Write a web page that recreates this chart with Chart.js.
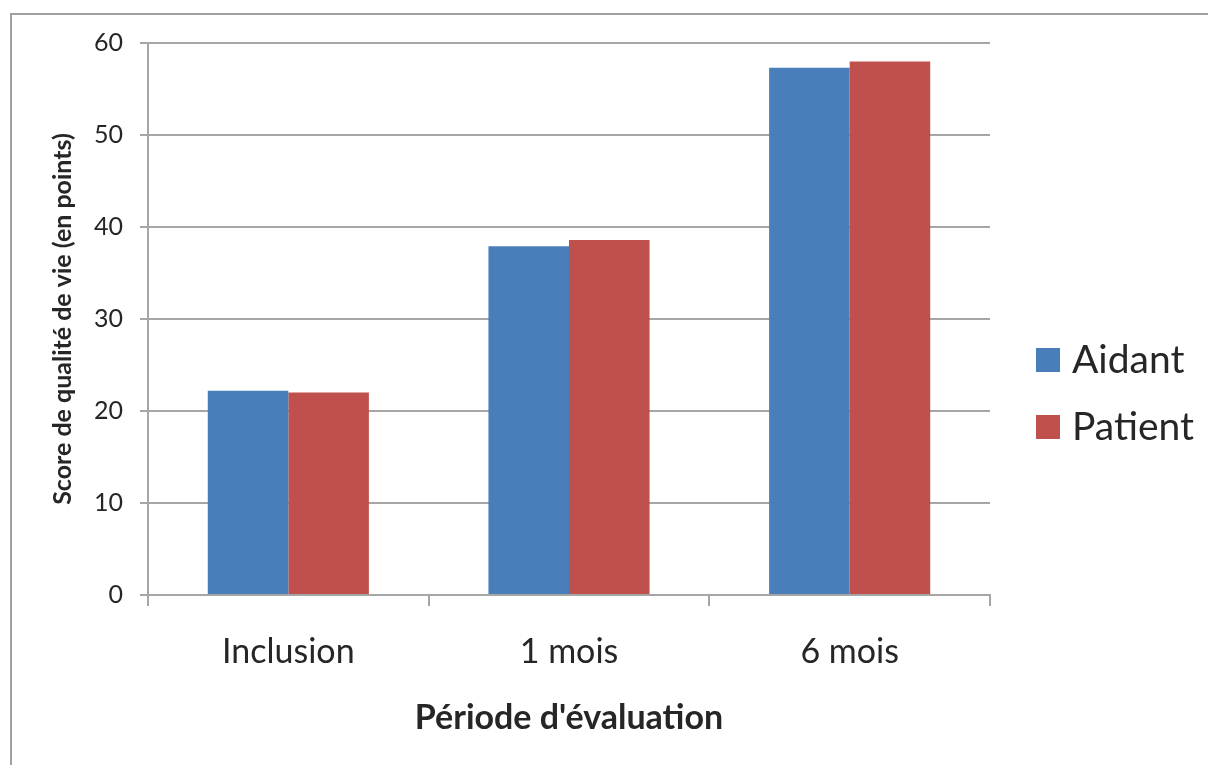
<!DOCTYPE html>
<html>
<head>
<meta charset="utf-8">
<script src="https://cdn.jsdelivr.net/npm/chart.js@4.4.0/dist/chart.umd.min.js"></script>
<style>
html,body{margin:0;padding:0;background:#fff;}
canvas{display:block;}
</style>
</head>
<body>
<canvas id="c" width="1208" height="765"></canvas>
<script>
const categories = ["Inclusion", "1 mois", "6 mois"];
const aidantValues = [22.2, 37.9, 57.3];
const patientValues = [22.0, 38.6, 58.0];
const seriesNames = ["Aidant", "Patient"];
const yTitle = "Score de qualité de vie (en points)";
const xTitle = "Période d'évaluation";

const FONT = "Lato, 'Open Sans', sans-serif";
const TEXT = "#262626";
const GRID = "#a6a6a6";

const framePlugin = {
  id: 'frame',
  beforeDraw(chart) {
    const ctx = chart.ctx;
    ctx.save();
    ctx.strokeStyle = '#a0a0a0';
    ctx.lineWidth = 2;
    ctx.beginPath();
    ctx.moveTo(11, 765);
    ctx.lineTo(11, 14);
    ctx.lineTo(1208, 14);
    ctx.stroke();
    ctx.restore();
  }
};

const legendPlugin = {
  id: 'customLegend',
  afterDraw(chart) {
    const ctx = chart.ctx;
    ctx.save();
    chart.data.datasets.forEach((ds, i) => {
      const top = 348 + i * 67;
      ctx.fillStyle = ds.backgroundColor;
      ctx.fillRect(1036, top, 24, 24);
      ctx.fillStyle = TEXT;
      ctx.font = "39px " + FONT;
      ctx.textBaseline = 'middle';
      ctx.textAlign = 'left';
      ctx.fillText(ds.label, 1072, top + 12);
    });
    ctx.restore();
  }
};

new Chart(document.getElementById('c'), {
  type: 'bar',
  data: {
    labels: categories,
    datasets: [
      { label: seriesNames[0], data: aidantValues, backgroundColor: '#4a7ebb' },
      { label: seriesNames[1], data: patientValues, backgroundColor: '#c0504d' }
    ]
  },
  options: {
    responsive: false,
    animation: false,
    devicePixelRatio: 1,
    categoryPercentage: 0.574,
    barPercentage: 1.0,
    layout: { padding: { left: 0, right: 218, top: 43, bottom: 0 } },
    plugins: { legend: { display: false }, tooltip: { enabled: false } },
    scales: {
      x: {
        grid: { display: true, drawOnChartArea: false, drawTicks: true, tickLength: 11, color: GRID, lineWidth: 2 },
        border: { display: true, color: GRID, width: 2 },
        ticks: { color: TEXT, font: { family: FONT, size: 34 }, padding: 26 },
        title: { display: true, text: xTitle, color: TEXT, font: { family: FONT, size: 34, weight: 'bold' }, padding: { top: 0, bottom: 27 } },
        afterFit(scale) { scale.height = 170; }
      },
      y: {
        min: 0, max: 60,
        grid: { color: GRID, lineWidth: 2, tickLength: 8 },
        border: { display: true, color: GRID, width: 2 },
        ticks: { stepSize: 10, color: TEXT, font: { family: FONT, size: 25 }, padding: 17 },
        title: { display: true, text: yTitle, color: TEXT, font: { family: FONT, size: 25, weight: 'bold' }, padding: { top: 48, bottom: 0 } },
        afterFit(scale) { scale.width = 148; }
      }
    }
  },
  plugins: [framePlugin, legendPlugin]
});
</script>
</body>
</html>
